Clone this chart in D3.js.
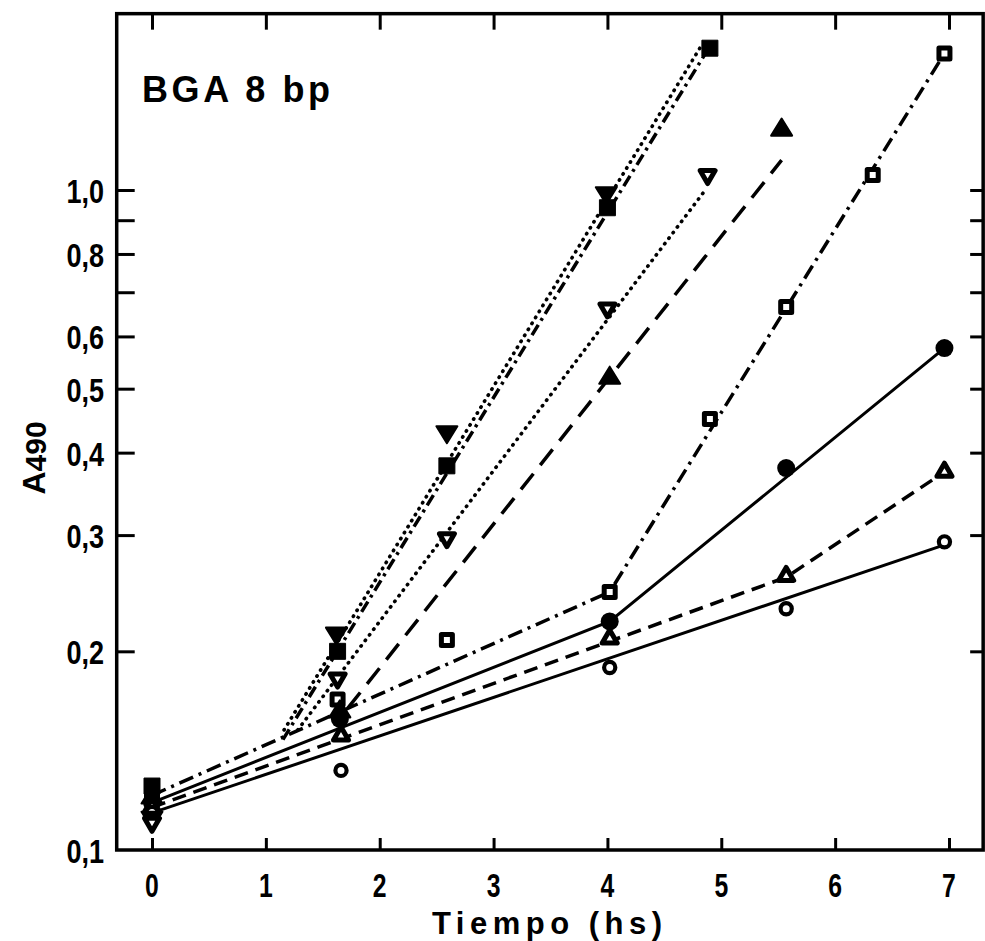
<!DOCTYPE html>
<html>
<head>
<meta charset="utf-8">
<script src="https://cdn.jsdelivr.net/npm/d3@7"></script>
<style>
  html, body { margin: 0; padding: 0; background: #fff; }
  svg { display: block; }
  text { font-family: "Liberation Sans", Arial, sans-serif; font-weight: bold; fill: #000; }
</style>
</head>
<body>
<svg id="chart" width="985" height="941"></svg>
<script>
// ---- measured absorbance (A490) against time (hours), one pair of arrays per series ----
const circleOpenT = [0, 1.66, 4.02, 5.57, 6.96];
const circleOpenA = [0.114, 0.132, 0.189, 0.232, 0.293];

const circleFilledT = [0, 1.65, 4.02, 5.57, 6.96];
const circleFilledA = [0.118, 0.158, 0.222, 0.379, 0.576];

const triUpOpenT = [0, 1.66, 4.02, 5.57, 6.96];
const triUpOpenA = [0.116, 0.149, 0.209, 0.26, 0.374];

const squareOpenT = [0, 1.63, 2.59, 4.02, 4.9, 5.57, 6.33, 6.96];
const squareOpenA = [0.122, 0.169, 0.208, 0.246, 0.45, 0.665, 1.054, 1.61];

const triUpFilledT = [0, 1.65, 4.02, 5.53];
const triUpFilledA = [0.12, 0.162, 0.519, 1.233];

const triDownOpenT = [0, 1.63, 2.59, 4.0, 4.88];
const triDownOpenA = [0.110, 0.182, 0.297, 0.662, 1.054];

const triDownFilledT = [0, 1.62, 2.59, 3.99];
const triDownFilledA = [0.112, 0.213, 0.43, 0.99];

const squareFilledT = [0, 1.63, 2.59, 4.0, 4.9];
const squareFilledA = [0.125, 0.2, 0.382, 0.94, 1.64];

// ---- fitted growth lines (vertex times and absorbances) ----
const fitCircleOpenT = [0, 6.96];
const fitCircleOpenA = [0.1138, 0.29];
const fitCircleFilledT = [0, 4.02, 6.96];
const fitCircleFilledA = [0.118, 0.222, 0.576];
const fitTriUpOpenT = [0, 5.57, 6.96];
const fitTriUpOpenA = [0.116, 0.259, 0.374];
const fitSquareOpenT = [0, 4.02, 6.96];
const fitSquareOpenA = [0.121, 0.246, 1.61];
const fitSquareFilledT = [1.15, 4.87];
const fitSquareFilledA = [0.147, 1.62];
const fitTriDownFilledT = [1.16, 4.83];
const fitTriDownFilledA = [0.152, 1.66];
const fitTriDownOpenT = [1.28, 4.86];
const fitTriDownOpenA = [0.152, 1.0];
const fitTriUpFilledT = [1.72, 5.53];
const fitTriUpFilledA = [0.164, 1.11];

// ---- axis ticks and labels ----
const xTicks = [0, 1, 2, 3, 4, 5, 6, 7];
const xTickLabels = ["0", "1", "2", "3", "4", "5", "6", "7"];
const yTicks = [0.2, 0.3, 0.4, 0.5, 0.6, 0.7, 0.8, 0.9, 1.0];
const yLabelValues = [1.0, 0.8, 0.6, 0.5, 0.4, 0.3, 0.2, 0.1];
const yTickLabels = ["1,0", "0,8", "0,6", "0,5", "0,4", "0,3", "0,2", "0,1"];
const panelTitle = "BGA 8 bp";
const xTitle = "Tiempo (hs)";

// ---- scales ----
const x = d3.scaleLinear().domain([0, 7]).range([152, 949]);
const y = d3.scaleLog().domain([0.1, 1]).range([850, 190]);
const frameLeft = x(-0.31), frameRight = x(7.3), frameTop = y(1.85), frameBottom = y(0.1);

const svg = d3.select("#chart");
const zip = (ts, as) => ts.map((t, i) => [t, as[i]]);

// ---- fitted lines ----
const lineStyles = {
  solid: { dash: null, cap: "butt", w: 3 },
  dashShort: { dash: "14 8", cap: "butt", w: 3.5 },
  dashLong: { dash: "20 11", cap: "butt", w: 3.5 },
  dashDot: { dash: "15 6 3 6", cap: "butt", w: 3.5 },
  dashDotTight: { dash: "12 5 3 5", cap: "butt", w: 3.5 },
  dotted: { dash: "0.5 6.5", cap: "round", w: 3.6 }
};
const fits = [
  { pts: zip(fitCircleOpenT, fitCircleOpenA), style: "solid" },
  { pts: zip(fitCircleFilledT, fitCircleFilledA), style: "solid" },
  { pts: zip(fitTriUpOpenT, fitTriUpOpenA), style: "dashShort" },
  { pts: zip(fitSquareOpenT, fitSquareOpenA), style: "dashDot" },
  { pts: zip(fitSquareFilledT, fitSquareFilledA), style: "dashDotTight" },
  { pts: zip(fitTriDownFilledT, fitTriDownFilledA), style: "dotted" },
  { pts: zip(fitTriDownOpenT, fitTriDownOpenA), style: "dotted" },
  { pts: zip(fitTriUpFilledT, fitTriUpFilledA), style: "dashLong" }
];
const line = d3.line().x(d => x(d[0])).y(d => y(d[1]));
svg.append("g").selectAll("path").data(fits).join("path")
  .attr("d", d => line(d.pts))
  .attr("fill", "none")
  .attr("stroke", "#000")
  .attr("stroke-width", d => lineStyles[d.style].w)
  .attr("stroke-linecap", d => lineStyles[d.style].cap)
  .attr("stroke-dasharray", d => lineStyles[d.style].dash);

// ---- marker shapes ----
function triPath(w, h, down) {
  const s = down ? -1 : 1;
  // centred on the centroid
  return `M0,${-s * 2 * h / 3} L${w / 2},${s * h / 3} L${-w / 2},${s * h / 3} Z`;
}
const markers = {
  circleOpen: { d: d3.symbol(d3.symbolCircle, Math.PI * 5.6 * 5.6)(), fill: "#fff", sw: 4.2 },
  circleFilled: { d: d3.symbol(d3.symbolCircle, Math.PI * 9 * 9)(), fill: "#000", sw: 0 },
  triUpOpen: { d: triPath(15, 13, false), fill: "#fff", sw: 5 },
  triUpFilled: { d: triPath(21, 17, false), fill: "#000", sw: 2 },
  triDownOpen: { d: triPath(15, 13, true), fill: "#fff", sw: 5 },
  triDownFilled: { d: triPath(21, 17, true), fill: "#000", sw: 2 },
  squareOpen: { d: "M-5.5,-5.5H5.5V5.5H-5.5Z", fill: "#fff", sw: 5 },
  squareFilled: { d: "M-8,-8H8V8H-8Z", fill: "#000", sw: 1 }
};
const series = [
  { m: "squareFilled", pts: zip(squareFilledT, squareFilledA) },
  { m: "squareOpen", pts: zip(squareOpenT, squareOpenA) },
  { m: "triUpFilled", pts: zip(triUpFilledT, triUpFilledA) },
  { m: "circleFilled", pts: zip(circleFilledT, circleFilledA) },
  { m: "triUpOpen", pts: zip(triUpOpenT, triUpOpenA) },
  { m: "circleOpen", pts: zip(circleOpenT, circleOpenA) },
  { m: "triDownFilled", pts: zip(triDownFilledT, triDownFilledA) },
  { m: "triDownOpen", pts: zip(triDownOpenT, triDownOpenA) }
];
const mg = svg.append("g");
series.forEach(s => {
  const mk = markers[s.m];
  mg.append("g").selectAll("path").data(s.pts).join("path")
    .attr("transform", d => `translate(${x(d[0])},${y(d[1])})`)
    .attr("d", mk.d)
    .attr("fill", mk.fill)
    .attr("stroke", "#000")
    .attr("stroke-width", mk.sw)
    .attr("stroke-linejoin", "round");
});

// ---- frame and ticks (all pointing inward) ----
const ax = svg.append("g");
ax.append("g").attr("transform", `translate(${frameLeft},0)`)
  .call(d3.axisLeft(y).tickValues(yTicks).tickSizeInner(-18).tickSizeOuter(0).tickFormat(""));
ax.append("g").attr("transform", `translate(${frameRight},0)`)
  .call(d3.axisRight(y).tickValues(yTicks).tickSizeInner(-13).tickSizeOuter(0).tickFormat(""));
ax.append("g").attr("transform", `translate(0,${frameBottom})`)
  .call(d3.axisBottom(x).tickValues(xTicks).tickSizeInner(-12).tickSizeOuter(0).tickFormat(""));
ax.append("g").attr("transform", `translate(0,${frameTop})`)
  .call(d3.axisTop(x).tickValues(xTicks).tickSizeInner(-16).tickSizeOuter(0).tickFormat(""));
ax.selectAll(".domain").remove();
ax.selectAll(".tick line").attr("stroke", "#000").attr("stroke-width", 3);
svg.append("rect")
  .attr("x", frameLeft).attr("y", frameTop)
  .attr("width", frameRight - frameLeft).attr("height", frameBottom - frameTop)
  .attr("fill", "none").attr("stroke", "#000").attr("stroke-width", 3.5);

// ---- tick labels ----
svg.append("g").selectAll("text").data(yLabelValues).join("text")
  .attr("transform", d => `translate(104,${y(d) + 1}) scale(0.82,1)`)
  .attr("text-anchor", "end")
  .attr("dy", "0.36em")
  .attr("font-size", 33)
  .text((d, i) => yTickLabels[i]);
svg.append("g").selectAll("text").data(xTicks).join("text")
  .attr("transform", d => `translate(${x(d)},897) scale(0.75,1)`)
  .attr("text-anchor", "middle")
  .attr("font-size", 33)
  .text((d, i) => xTickLabels[i]);

// ---- titles ----
svg.append("text")
  .attr("x", 142).attr("y", 102)
  .attr("font-size", 36)
  .attr("textLength", 188).attr("lengthAdjust", "spacing")
  .text(panelTitle);
svg.append("text")
  .attr("x", 432).attr("y", 934)
  .attr("font-size", 31)
  .attr("textLength", 230).attr("lengthAdjust", "spacing")
  .text(xTitle);
const yt = svg.append("text")
  .attr("transform", "translate(45,458) rotate(-90)")
  .attr("text-anchor", "middle");
yt.append("tspan").attr("font-size", 32).text("A");
yt.append("tspan").attr("font-size", 30).attr("dy", 1).text("490");
</script>
</body>
</html>
